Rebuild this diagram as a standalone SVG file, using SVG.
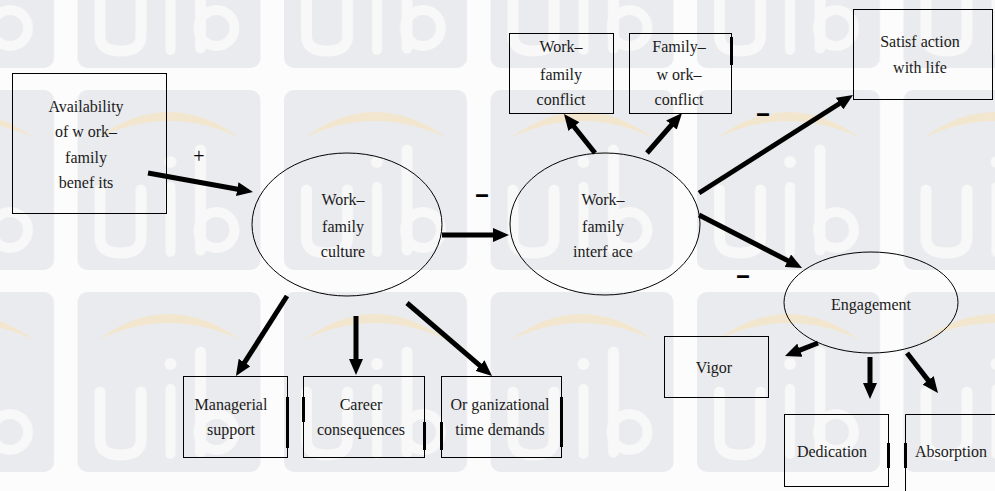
<svg xmlns="http://www.w3.org/2000/svg" width="995" height="491" viewBox="0 0 995 491">
<style>
.t{font-size:16px;fill:#1a1a1a;text-anchor:middle}
.s{font-size:20px;fill:#000;text-anchor:middle}
.d{font-size:20px;fill:#000;stroke:#000;stroke-width:1.6;text-anchor:middle}
.box{fill:none;stroke:#000;stroke-width:1}
.ell{fill:none;stroke:#000;stroke-width:1}
.bar{fill:#000}
.arr{stroke:#000;stroke-width:5;fill:none;marker-end:url(#ah)}
.wl{stroke:#f8f8f9;fill:none;stroke-linecap:round}
</style>
<defs>
<marker id="ah" markerUnits="userSpaceOnUse" markerWidth="16" markerHeight="14" viewBox="0 0 16 14" refX="2" refY="7" orient="auto">
<path d="M0,0 L16,7 L0,14 z" fill="#000"/>
</marker>
<pattern id="wm" patternUnits="userSpaceOnUse" x="-129" y="-112" width="206.5" height="202">
<rect x="0" y="0" width="183" height="180" rx="10" fill="#eaebee"/>
<path d="M20,48 Q91,-4 163,48 Q91,14 20,48 z" fill="#f5e4c2" opacity="0.75"/>
<path class="wl" stroke-width="11" d="M22.5,100 V148 Q22.5,163 43,163 Q63.5,163 63.5,148 V100"/>
<circle cx="93" cy="72" r="6" fill="#f8f8f9"/>
<line class="wl" stroke-width="10" x1="93" y1="97" x2="93" y2="162"/>
<line class="wl" stroke-width="11" x1="123" y1="60" x2="123" y2="160"/>
<circle class="wl" stroke-width="10" cx="139" cy="140" r="18"/>
</pattern>
</defs>
<rect x="0" y="0" width="995" height="491" fill="#fcfcfc"/>
<rect x="0" y="0" width="995" height="491" fill="url(#wm)"/>

<g font-family="Liberation Serif, Times New Roman, serif">
<g id="connectors">
<line class="arr" x1="148" y1="173" x2="239.2" y2="189.5"/>
<line class="arr" x1="442" y1="235" x2="495" y2="235"/>
<line class="arr" x1="595" y1="153" x2="572.7" y2="125"/>
<line class="arr" x1="647" y1="153" x2="672.8" y2="123.5"/>
<line class="arr" x1="699" y1="193" x2="841.2" y2="102.5"/>
<line class="arr" x1="699" y1="215" x2="789.6" y2="261.6"/>
<line class="arr" x1="287" y1="296" x2="243.5" y2="364.2"/>
<line class="arr" x1="356" y1="316" x2="356" y2="361"/>
<line class="arr" x1="407" y1="303" x2="481.4" y2="366.9"/>
<line class="arr" x1="818" y1="343" x2="798" y2="350.9"/>
<line class="arr" x1="870" y1="357" x2="870" y2="385"/>
<line class="arr" x1="907" y1="353" x2="929.4" y2="381.9"/>
<text class="s" x="199" y="163">+</text>
<text class="d" x="482" y="201">–</text>
<text class="d" x="763" y="120">–</text>
<text class="d" x="743" y="282">–</text>
</g>

<g id="availability">
<rect class="box" x="12.5" y="73.5" width="154" height="140"/>
<text class="t" x="86" y="112">Availability</text>
<text class="t" x="86" y="137">of w ork–</text>
<text class="t" x="86" y="163">family</text>
<text class="t" x="86" y="188">benef its</text>
</g>

<g id="culture">
<ellipse class="ell" cx="347" cy="224.5" rx="95" ry="71.5"/>
<text class="t" x="343" y="205">Work–</text>
<text class="t" x="343" y="232">family</text>
<text class="t" x="343" y="257">culture</text>
</g>

<g id="interface">
<ellipse class="ell" cx="605" cy="224" rx="95" ry="71"/>
<text class="t" x="603" y="205">Work–</text>
<text class="t" x="603" y="232">family</text>
<text class="t" x="603" y="257">interf ace</text>
</g>

<g id="wfconflict">
<rect class="box" x="509.5" y="33.5" width="104" height="80"/>
<text class="t" x="561" y="52">Work–</text>
<text class="t" x="561" y="80">family</text>
<text class="t" x="561" y="105">conflict</text>
</g>

<g id="fwconflict">
<rect class="box" x="629.5" y="33.5" width="102" height="80"/>
<rect class="bar" x="730" y="37" width="3" height="28"/>
<text class="t" x="679" y="52">Family–</text>
<text class="t" x="679" y="80">w ork–</text>
<text class="t" x="679" y="105">conflict</text>
</g>

<g id="satisfaction">
<rect class="box" x="853.5" y="9.5" width="139" height="90"/>
<text class="t" x="920" y="47">Satisf action</text>
<text class="t" x="920" y="73">with life</text>
</g>

<g id="engagement">
<ellipse class="ell" cx="871" cy="302.5" rx="87" ry="50.5"/>
<text class="t" x="871" y="310">Engagement</text>
</g>

<g id="managerial">
<rect class="box" x="183.5" y="376.5" width="104" height="81"/>
<rect class="bar" x="286" y="397" width="3" height="51"/>
<text class="t" x="231" y="410">Managerial</text>
<text class="t" x="231" y="435">support</text>
</g>

<g id="career">
<rect class="box" x="303.5" y="376.5" width="121" height="81"/>
<rect class="bar" x="302" y="397" width="3" height="25"/>
<rect class="bar" x="423" y="422" width="3" height="28"/>
<text class="t" x="361" y="410">Career</text>
<text class="t" x="361" y="435">consequences</text>
</g>

<g id="organizational">
<rect class="box" x="441.5" y="376.5" width="120" height="81"/>
<rect class="bar" x="440" y="422" width="3" height="28"/>
<rect class="bar" x="560" y="397" width="3" height="50"/>
<text class="t" x="500" y="410">Or ganizational</text>
<text class="t" x="500" y="435">time demands</text>
</g>

<g id="vigor">
<rect class="box" x="664.5" y="336.5" width="104" height="61"/>
<text class="t" x="714" y="373">Vigor</text>
</g>

<g id="dedication">
<rect class="box" x="784.5" y="414.5" width="104" height="72"/>
<rect class="bar" x="887" y="443" width="3" height="25"/>
<text class="t" x="832" y="457">Dedication</text>
</g>

<g id="absorption">
<path class="box" d="M995,414.5 H905.5 V491"/>
<rect class="bar" x="904" y="443" width="3" height="25"/>
<text class="t" x="951" y="457">Absorption</text>
</g>
</g>
</svg>
